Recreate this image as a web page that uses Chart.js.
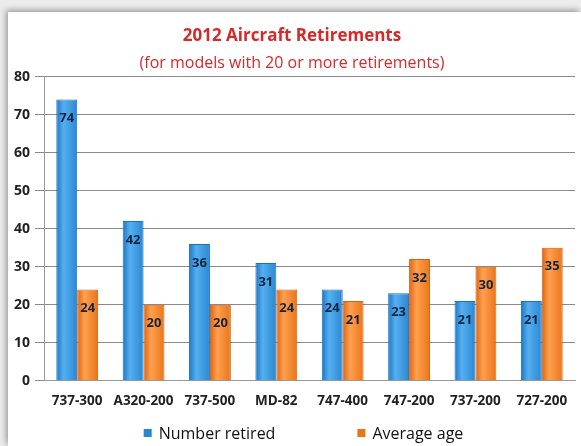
<!DOCTYPE html>
<html>
<head>
<meta charset="utf-8">
<script src="https://cdn.jsdelivr.net/npm/chart.js@4/dist/chart.umd.min.js"></script>
<style>
  body { margin: 0; background: #ececec; }
  #frame {
    position: absolute; left: 8px; top: 12px; width: 573px; height: 434px;
    background: #fff; box-shadow: -2px -2px 6px rgba(0,0,0,0.35);
  }
</style>
</head>
<body>
<div id="frame"><canvas id="graph" width="573" height="434"></canvas></div>
<script>
// Data
const models = ["737-300", "A320-200", "737-500", "MD-82", "747-400", "747-200", "737-200", "727-200"];
const numberRetired = [74, 42, 36, 31, 24, 23, 21, 21];
const averageAge = [24, 20, 20, 24, 21, 32, 30, 35];
const yTicks = [0, 10, 20, 30, 40, 50, 60, 70, 80];

const FONT = "'Open Sans', sans-serif";
const shades = [
    ["#1c74c4", "#55b0f0", "#2a86d2"],
    ["#dc6410", "#ffa050", "#ea7418"],
];

// cylinder-ish shading on each bar
const barShading = {
    id: "barShading",
    beforeDatasetsDraw(chart) {
        const ctx = chart.ctx;
        chart.data.datasets.forEach((ds, i) => {
            chart.getDatasetMeta(i).data.forEach((bar) => {
                const g = ctx.createLinearGradient(bar.x - bar.width / 2, 0, bar.x + bar.width / 2, 0);
                g.addColorStop(0, shades[i][0]);
                g.addColorStop(0.35, shades[i][1]);
                g.addColorStop(1, shades[i][2]);
                bar.options.backgroundColor = g;
            });
        });
    }
};

// value inside the top of each bar
const valueLabels = {
    id: "valueLabels",
    afterDatasetsDraw(chart) {
        const ctx = chart.ctx;
        ctx.save();
        ctx.font = "bold 13px " + FONT;
        ctx.fillStyle = "#15243f";
        ctx.textAlign = "center";
        ctx.textBaseline = "middle";
        chart.data.datasets.forEach((ds, i) => {
            chart.getDatasetMeta(i).data.forEach((bar, j) => {
                ctx.fillText(ds.data[j], bar.x, bar.y + 19);
            });
        });
        ctx.restore();
    }
};

// legend spread out under the plot
const wideLegend = {
    id: "wideLegend",
    afterDraw(chart) {
        const ctx = chart.ctx;
        const area = chart.chartArea;
        ctx.save();
        ctx.font = "16px " + FONT;
        ctx.textBaseline = "middle";
        const box = 8, gapText = 7, gapItems = 82;
        const widths = chart.data.datasets.map((ds) => box + gapText + ctx.measureText(ds.label).width);
        const total = widths[0] + gapItems + widths[1];
        let x = (area.left + area.right) / 2 - 6 - total / 2;
        const y = chart.height - 13;
        chart.data.datasets.forEach((ds, i) => {
            ctx.fillStyle = shades[i][2];
            ctx.fillRect(x, y - box / 2, box, box);
            ctx.fillStyle = "#111";
            ctx.fillText(ds.label, x + box + gapText, y + 1);
            x += widths[i] + gapItems;
        });
        ctx.restore();
    }
};

new Chart(document.getElementById("graph"), {
    type: "bar",
    data: {
        labels: models,
        datasets: [
            {
                label: "Number retired",
                data: numberRetired,
                // scriptable so every bar keeps its own options object
                backgroundColor: () => shades[0][2],
                borderColor: "#1c70bc",
                borderWidth: 1,
                categoryPercentage: 0.63,
                barPercentage: 1.0,
            },
            {
                label: "Average age",
                data: averageAge,
                backgroundColor: () => shades[1][2],
                borderColor: "#d4620e",
                borderWidth: 1,
                categoryPercentage: 0.63,
                barPercentage: 1.0,
            },
        ],
    },
    options: {
        responsive: false,
        animation: false,
        layout: { padding: { left: 1, right: 6, top: 4, bottom: 33 } },
        plugins: {
            title: {
                display: true,
                text: "2012 Aircraft Retirements",
                color: "#d42a2a",
                font: { family: FONT, size: 17, weight: "bold" },
                padding: { top: 10, bottom: 3 },
            },
            subtitle: {
                display: true,
                text: "(for models with 20 or more retirements)",
                color: "#d42a2a",
                font: { family: FONT, size: 16 },
                padding: { top: 4, bottom: 4 },
            },
            legend: { display: false },
            tooltip: { enabled: false },
        },
        scales: {
            x: {
                grid: { display: false },
                border: { color: "#999" },
                ticks: {
                    color: "#222",
                    padding: 4,
                    maxRotation: 0,
                    autoSkip: false,
                    font: { family: FONT, size: 13.5, weight: "bold" },
                },
            },
            y: {
                min: 0,
                max: 80,
                afterBuildTicks: (axis) => { axis.ticks = yTicks.map((v) => ({ value: v })); },
                grid: { color: "#8a8a8a", tickLength: 9 },
                border: { color: "#999" },
                ticks: {
                    color: "#222",
                    padding: 5,
                    font: { family: FONT, size: 14, weight: "bold" },
                },
            },
        },
    },
    plugins: [barShading, valueLabels, wideLegend],
});
</script>
</body>
</html>
